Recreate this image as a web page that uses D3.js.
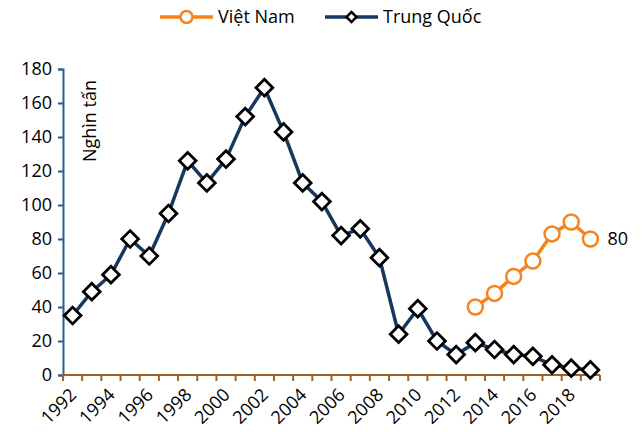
<!DOCTYPE html>
<html>
<head>
<meta charset="utf-8">
<script src="https://cdn.jsdelivr.net/npm/d3@7"></script>
<style>
  body { margin: 0; background: #fff; }
  text { font-family: "Open Sans", "Noto Sans", sans-serif; fill: #000; }
</style>
</head>
<body>
<div id="chart"></div>
<script>
// years on the category axis
const years = d3.range(1992, 2020);
const tickYears = years.filter(y => y % 2 === 0);
const yTicks = [0, 20, 40, 60, 80, 100, 120, 140, 160, 180];

// Trung Quốc, 1992-2019
const chinaValues = [35, 49, 59, 80, 70, 95, 126, 113, 127, 152, 169, 143, 113, 102,
                     82, 86, 69, 24, 39, 20, 12, 19, 15, 12, 11, 6, 4, 3];
// Việt Nam, 2013-2019
const vnYears = [2013, 2014, 2015, 2016, 2017, 2018, 2019];
const vnValues = [40, 48, 58, 67, 83, 90, 80];

const width = 642, height = 432;
const margin = {top: 69, right: 42, bottom: 57, left: 63};
const fs = "18px";

const svg = d3.select("#chart").append("svg")
    .attr("width", width)
    .attr("height", height);

const x = d3.scaleBand()
    .domain(years)
    .range([margin.left, width - margin.right]);

const y = d3.scaleLinear()
    .domain([0, 180])
    .range([height - margin.bottom, margin.top]);

const cx = d => x(d) + x.bandwidth() / 2;

const orange = "#F5841F";
const navy = "#17375E";

// y axis
const yAxis = svg.append("g")
    .attr("transform", `translate(${margin.left},0)`)
    .call(d3.axisLeft(y).tickValues(yTicks).tickSize(5).tickPadding(6));
yAxis.select(".domain").attr("stroke", "#2E5B8A").attr("stroke-width", 2);
yAxis.selectAll(".tick line").attr("stroke", "#2E5B8A").attr("stroke-width", 2);
yAxis.selectAll("text").style("font-size", fs).attr("fill", "#000");

// x axis: ticks at category boundaries
const xAxis = svg.append("g")
    .attr("transform", `translate(0,${y(0)})`);
xAxis.append("line")
    .attr("x1", margin.left).attr("x2", width - margin.right)
    .attr("stroke", "#A0612A").attr("stroke-width", 2);
xAxis.selectAll(".xt")
    .data(years.concat([2020]))
    .enter().append("line")
    .attr("class", "xt")
    .attr("x1", d => d === 2020 ? width - margin.right : x(d))
    .attr("x2", d => d === 2020 ? width - margin.right : x(d))
    .attr("y1", 0).attr("y2", 6)
    .attr("stroke", "#A0612A").attr("stroke-width", 2);
xAxis.selectAll(".xl")
    .data(tickYears)
    .enter().append("text")
    .attr("class", "xl")
    .attr("transform", d => `translate(${cx(d) + 5},${21}) rotate(-45)`)
    .attr("text-anchor", "end")
    .style("font-size", fs)
    .text(d => d);

// y axis title
svg.append("text")
    .attr("transform", `translate(96,${margin.top + 52}) rotate(-90)`)
    .attr("text-anchor", "middle")
    .style("font-size", fs)
    .text("Nghìn tấn");

const line = d3.line().x(d => cx(d[0])).y(d => y(d[1]));

// Trung Quốc
const chinaPts = years.map((yr, i) => [yr, chinaValues[i]]);
svg.append("path")
    .datum(chinaPts)
    .attr("d", line)
    .attr("fill", "none")
    .attr("stroke", navy)
    .attr("stroke-width", 3.5)
    .attr("stroke-linejoin", "round");

const diamond = d3.symbol().type(d3.symbolSquare).size(140);
svg.selectAll(".cn")
    .data(chinaPts)
    .enter().append("path")
    .attr("class", "cn")
    .attr("d", diamond)
    .attr("transform", d => `translate(${cx(d[0])},${y(d[1])}) rotate(45)`)
    .attr("fill", "#fff")
    .attr("stroke", "#000")
    .attr("stroke-width", 2.8);

// Việt Nam
const vnPts = vnYears.map((yr, i) => [yr, vnValues[i]]);
svg.append("path")
    .datum(vnPts)
    .attr("d", line)
    .attr("fill", "none")
    .attr("stroke", orange)
    .attr("stroke-width", 3.5);

svg.selectAll(".vn")
    .data(vnPts)
    .enter().append("circle")
    .attr("class", "vn")
    .attr("cx", d => cx(d[0]))
    .attr("cy", d => y(d[1]))
    .attr("r", 7.5)
    .attr("fill", "#fff")
    .attr("stroke", orange)
    .attr("stroke-width", 2.5);

// end label
const last = vnPts[vnPts.length - 1];
svg.append("text")
    .attr("x", cx(last[0]) + 17)
    .attr("y", y(last[1]))
    .attr("dy", "0.35em")
    .style("font-size", fs)
    .text(last[1]);

// legend
const legend = [
  {name: "Việt Nam", x: 160, color: orange, mark: "circle"},
  {name: "Trung Quốc", x: 325, color: navy, mark: "diamond"}
];
const lg = svg.selectAll(".legend")
    .data(legend)
    .enter().append("g")
    .attr("class", "legend")
    .attr("transform", d => `translate(${d.x},17)`);
lg.append("line")
    .attr("x1", 0).attr("x2", 53)
    .attr("stroke", d => d.color)
    .attr("stroke-width", 3.5);
lg.filter(d => d.mark === "circle").append("circle")
    .attr("cx", 26.5).attr("r", 6)
    .attr("fill", "#fff").attr("stroke", orange).attr("stroke-width", 2.5);
lg.filter(d => d.mark === "diamond").append("path")
    .attr("d", d3.symbol().type(d3.symbolSquare).size(50))
    .attr("transform", "translate(26.5,0) rotate(45)")
    .attr("fill", "#fff").attr("stroke", "#000").attr("stroke-width", 2.5);
lg.append("text")
    .attr("x", 58)
    .attr("dy", "0.35em")
    .style("font-size", fs)
    .text(d => d.name);
</script>
</body>
</html>
